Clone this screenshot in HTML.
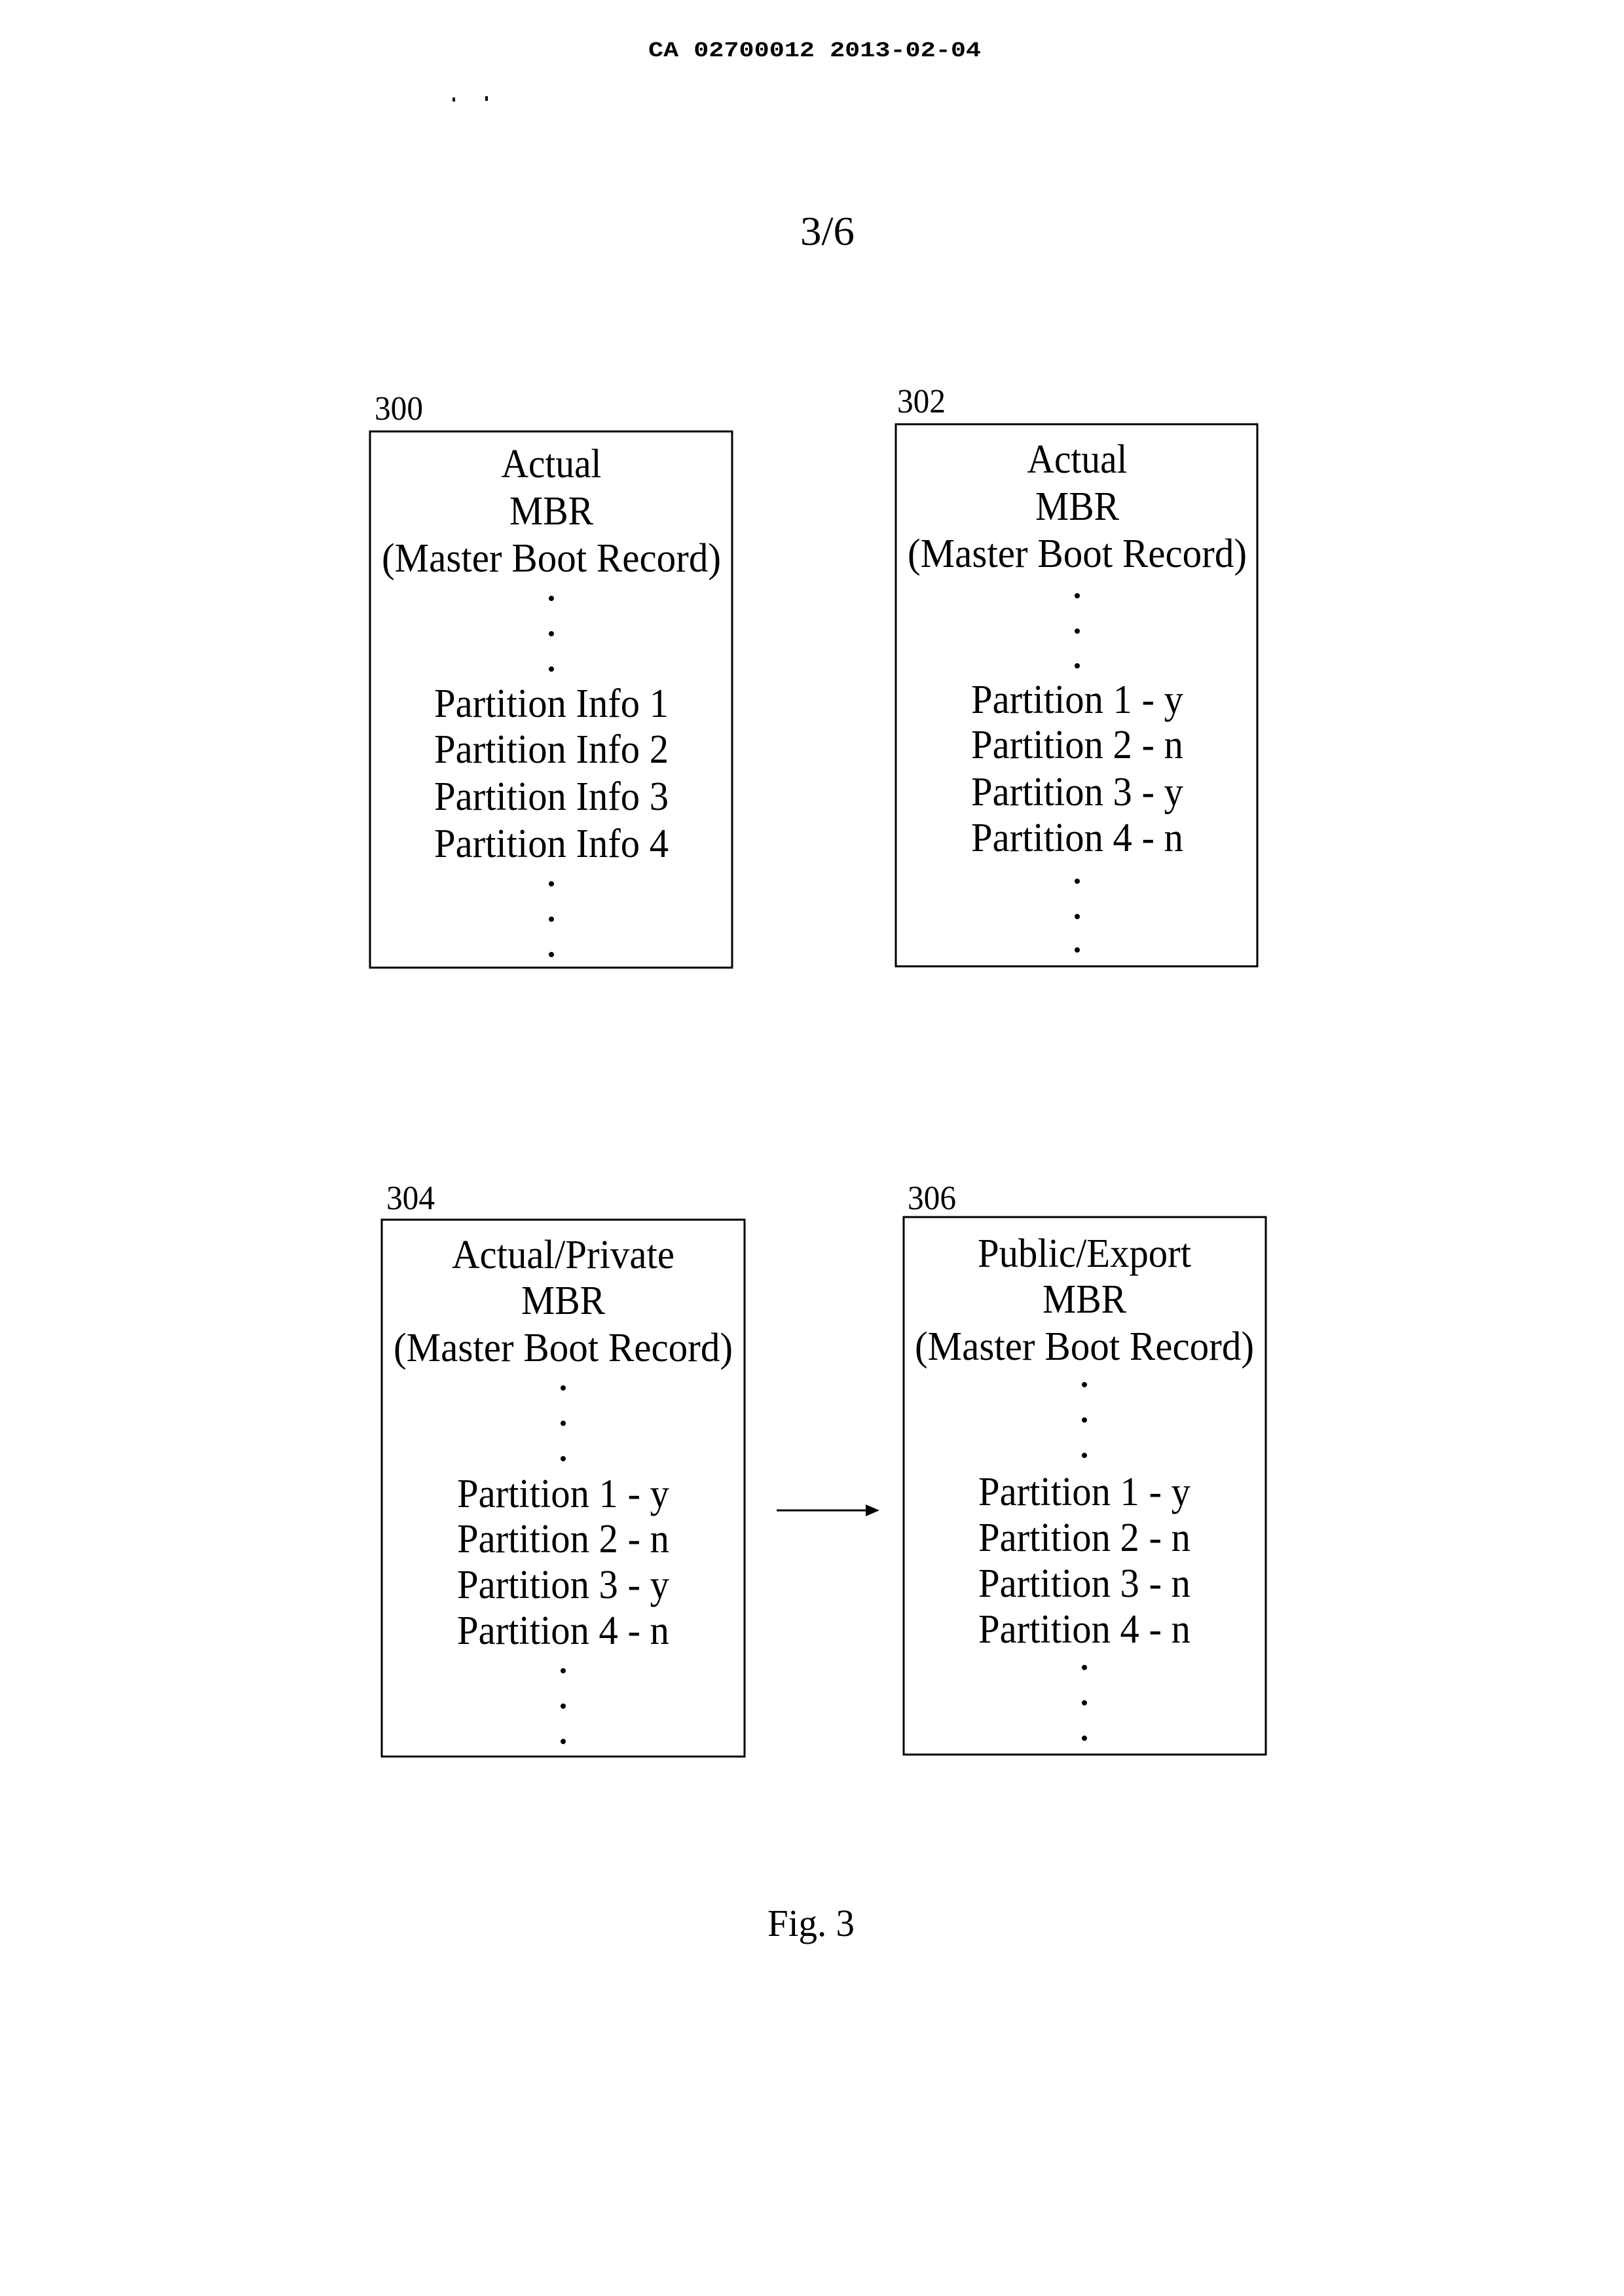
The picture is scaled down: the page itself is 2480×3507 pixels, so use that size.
<!DOCTYPE html>
<html><head><meta charset="utf-8"><style>html,body{margin:0;padding:0;background:#fff}svg{display:block}</style></head>
<body>
<svg xmlns="http://www.w3.org/2000/svg" width="2480" height="3507" viewBox="0 0 2480 3507">
<rect width="2480" height="3507" fill="#fff"/>
<g font-family="Liberation Mono, monospace" font-weight="bold" font-size="32">
<text x="990" y="86" textLength="508" lengthAdjust="spacingAndGlyphs">CA 02700012 2013-02-04</text>
</g>
<rect x="691" y="149" width="4" height="6" fill="#000"/><rect x="741" y="147" width="4" height="7" fill="#000"/>
<g font-family="Liberation Serif, serif" fill="#000">
<text x="1222" y="374" font-size="62" textLength="83" lengthAdjust="spacingAndGlyphs">3/6</text>
<text x="1172" y="2957" font-size="58" textLength="133" lengthAdjust="spacingAndGlyphs">Fig. 3</text>
<g font-size="52">
<text x="572" y="641" textLength="74" lengthAdjust="spacingAndGlyphs">300</text>
<text x="1370" y="630" textLength="74" lengthAdjust="spacingAndGlyphs">302</text>
<text x="590" y="1847" textLength="74" lengthAdjust="spacingAndGlyphs">304</text>
<text x="1386" y="1847" textLength="74" lengthAdjust="spacingAndGlyphs">306</text>
</g>
</g>
<g fill="none" stroke="#000" stroke-width="3">
<rect x="565" y="659" width="553" height="819"/>
<rect x="1368" y="648" width="552" height="828"/>
<rect x="583" y="1863" width="554" height="820"/>
<rect x="1380" y="1859" width="553" height="821"/>
<line x1="1186" y1="2307" x2="1325" y2="2307"/>
</g>
<polygon points="1343,2307 1322,2298 1322,2316" fill="#000"/>
<g font-family="Liberation Serif, serif" font-size="62" text-anchor="middle" fill="#000">
<!-- 300 -->
<text x="842" y="729" textLength="153" lengthAdjust="spacingAndGlyphs">Actual</text>
<text x="842" y="801" textLength="128" lengthAdjust="spacingAndGlyphs">MBR</text>
<text x="842" y="873" textLength="518" lengthAdjust="spacingAndGlyphs">(Master Boot Record)</text>
<text x="842" y="1095" textLength="358" lengthAdjust="spacingAndGlyphs">Partition Info 1</text>
<text x="842" y="1165" textLength="358" lengthAdjust="spacingAndGlyphs">Partition Info 2</text>
<text x="842" y="1237" textLength="358" lengthAdjust="spacingAndGlyphs">Partition Info 3</text>
<text x="842" y="1309" textLength="358" lengthAdjust="spacingAndGlyphs">Partition Info 4</text>
<!-- 302 -->
<text x="1645" y="722" textLength="153" lengthAdjust="spacingAndGlyphs">Actual</text>
<text x="1645" y="794" textLength="128" lengthAdjust="spacingAndGlyphs">MBR</text>
<text x="1645" y="866" textLength="518" lengthAdjust="spacingAndGlyphs">(Master Boot Record)</text>
<text x="1645" y="1089" textLength="324" lengthAdjust="spacingAndGlyphs">Partition 1 - y</text>
<text x="1645" y="1158" textLength="324" lengthAdjust="spacingAndGlyphs">Partition 2 - n</text>
<text x="1645" y="1230" textLength="324" lengthAdjust="spacingAndGlyphs">Partition 3 - y</text>
<text x="1645" y="1300" textLength="324" lengthAdjust="spacingAndGlyphs">Partition 4 - n</text>
<!-- 304 -->
<text x="860" y="1937" textLength="340" lengthAdjust="spacingAndGlyphs">Actual/Private</text>
<text x="860" y="2007" textLength="128" lengthAdjust="spacingAndGlyphs">MBR</text>
<text x="860" y="2079" textLength="518" lengthAdjust="spacingAndGlyphs">(Master Boot Record)</text>
<text x="860" y="2302" textLength="324" lengthAdjust="spacingAndGlyphs">Partition 1 - y</text>
<text x="860" y="2371" textLength="324" lengthAdjust="spacingAndGlyphs">Partition 2 - n</text>
<text x="860" y="2441" textLength="324" lengthAdjust="spacingAndGlyphs">Partition 3 - y</text>
<text x="860" y="2511" textLength="324" lengthAdjust="spacingAndGlyphs">Partition 4 - n</text>
<!-- 306 -->
<text x="1656" y="1935" textLength="326" lengthAdjust="spacingAndGlyphs">Public/Export</text>
<text x="1656" y="2005" textLength="128" lengthAdjust="spacingAndGlyphs">MBR</text>
<text x="1656" y="2077" textLength="518" lengthAdjust="spacingAndGlyphs">(Master Boot Record)</text>
<text x="1656" y="2299" textLength="324" lengthAdjust="spacingAndGlyphs">Partition 1 - y</text>
<text x="1656" y="2369" textLength="324" lengthAdjust="spacingAndGlyphs">Partition 2 - n</text>
<text x="1656" y="2439" textLength="324" lengthAdjust="spacingAndGlyphs">Partition 3 - n</text>
<text x="1656" y="2509" textLength="324" lengthAdjust="spacingAndGlyphs">Partition 4 - n</text>
</g>
<g fill="#000">
<circle cx="842" cy="914" r="4"/><circle cx="842" cy="968" r="4"/><circle cx="842" cy="1022" r="4"/>
<circle cx="842" cy="1350" r="4"/><circle cx="842" cy="1404" r="4"/><circle cx="842" cy="1458" r="4"/>
<circle cx="1645" cy="910" r="4"/><circle cx="1645" cy="964" r="4"/><circle cx="1645" cy="1017" r="4"/>
<circle cx="1645" cy="1346" r="4"/><circle cx="1645" cy="1400" r="4"/><circle cx="1645" cy="1451" r="4"/>
<circle cx="860" cy="2120" r="4"/><circle cx="860" cy="2174" r="4"/><circle cx="860" cy="2228" r="4"/>
<circle cx="860" cy="2552" r="4"/><circle cx="860" cy="2606" r="4"/><circle cx="860" cy="2660" r="4"/>
<circle cx="1656" cy="2115" r="4"/><circle cx="1656" cy="2169" r="4"/><circle cx="1656" cy="2223" r="4"/>
<circle cx="1656" cy="2547" r="4"/><circle cx="1656" cy="2601" r="4"/><circle cx="1656" cy="2655" r="4"/>
</g>
</svg>
</body></html>
